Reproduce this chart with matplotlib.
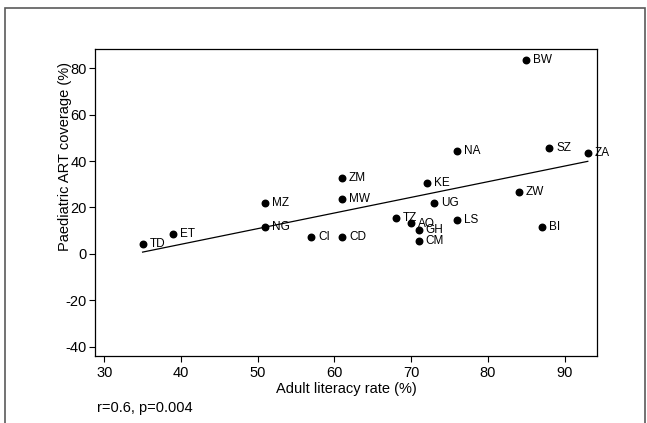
import numpy as np
import matplotlib
matplotlib.use("Agg")
import matplotlib.pyplot as plt
from matplotlib.patches import Rectangle

plt.rcParams['font.family'] = ['Liberation Sans', 'DejaVu Sans']
plt.rcParams['axes.unicode_minus'] = False

# country codes, adult literacy (%), paediatric ART coverage (%)
countries = ['TD', 'ET', 'NG', 'MZ', 'CI', 'ZM', 'MW', 'CD', 'TZ', 'AO', 'GH', 'CM',
             'KE', 'UG', 'NA', 'LS', 'ZW', 'BW', 'BI', 'SZ', 'ZA']
literacy = [35, 39, 51, 51, 57, 61, 61, 61, 68, 70, 71, 71,
            72, 73, 76, 76, 84, 85, 87, 88, 93]
art_cov = [4.5, 8.5, 11.6, 22, 7.5, 32.5, 23.8, 7.5, 15.6, 13.4, 10.3, 5.6,
           30.5, 22, 44.5, 14.5, 26.5, 83.5, 11.6, 45.5, 43.5]

x_ticks = [30, 40, 50, 60, 70, 80, 90]
y_ticks = [-40, -20, 0, 20, 40, 60, 80]

fig = plt.figure(figsize=(6.47, 4.23), dpi=100)
ax = fig.add_axes([95 / 647, 1 - 356 / 423, 502 / 647, 307 / 423])

# outer frame around the whole figure
fig.patches.append(Rectangle((5 / 647, -0.01), 640 / 647, 1 - 8 / 423 + 0.01,
                             transform=fig.transFigure, fill=False,
                             edgecolor='#5a5a5a', linewidth=1.2))

ax.scatter(literacy, art_cov, s=22, color='black', zorder=3)
for c, xv, yv in zip(countries, literacy, art_cov):
    dy = -1 if c == 'AO' else 0
    ax.annotate(c, (xv, yv), xytext=(5, dy), textcoords='offset points',
                va='center', ha='left', fontsize=8.5)

# least squares fit line
slope, intercept = np.polyfit(literacy, art_cov, 1)
fx = np.array([min(literacy), max(literacy)])
ax.plot(fx, intercept + slope * fx, color='black', linewidth=0.9)

ax.set_xlim(28.8, 94.2)
ax.set_ylim(-43.9, 88.2)
ax.set_xticks(x_ticks)
ax.set_yticks(y_ticks)
ax.tick_params(labelsize=10.5, length=4, width=0.8)
ax.tick_params(axis='y', pad=2)
for s in ax.spines.values():
    s.set_linewidth(0.9)

ax.set_xlabel('Adult literacy rate (%)', fontsize=10.5, labelpad=1)
ax.set_ylabel('Paediatric ART coverage (%)', fontsize=10.5)
ax.yaxis.set_label_coords(-0.046, 0.65)

fig.text(97 / 647, 1 - 408 / 423, 'r=0.6, p=0.004', fontsize=10.5, va='center', ha='left')

fig.savefig('out.png', dpi=100)
